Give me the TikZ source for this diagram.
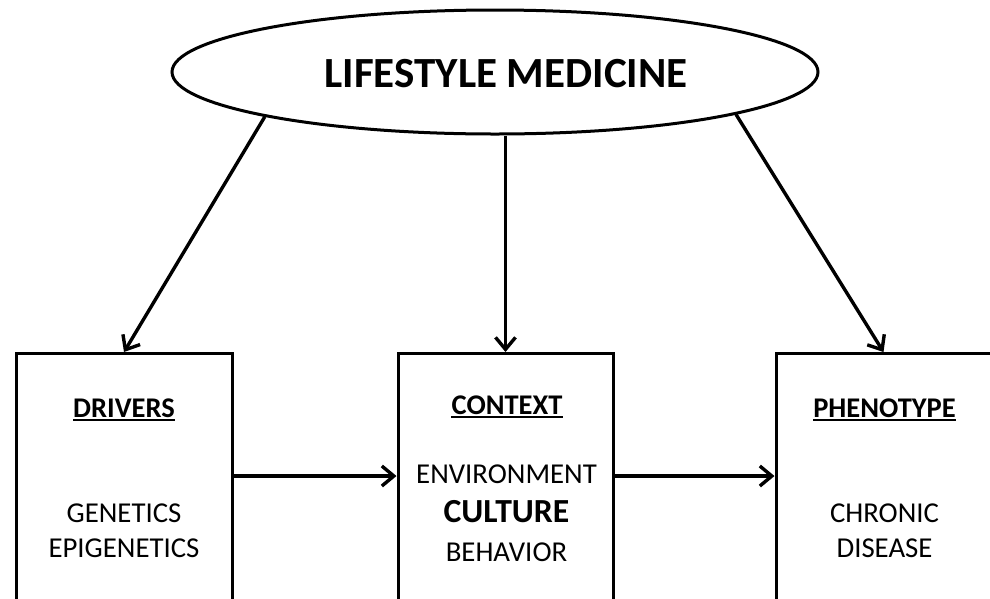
\documentclass[tikz,border=0pt]{standalone}
\usepackage{fontspec}
\setmainfont{Carlito}
\usetikzlibrary{shapes.geometric,arrows.meta}
\begin{document}
\begin{tikzpicture}[x=1pt,y=-1pt,
  stroke/.style={draw=black,line width=3pt},
  arr/.style={line width=3.4pt,-{Straight Barb[length=12pt,width=20pt]}},
  panel/.style={stroke,rectangle,inner sep=0pt,anchor=north,minimum height=280pt},
  txt/.style={inner sep=0pt,anchor=base,font=\fontsize{28.8}{30}\selectfont},
  head/.style={inner sep=0pt,anchor=base,font=\fontsize{28.5}{30}\selectfont\bfseries},
  big/.style={inner sep=0pt,anchor=base,font=\fontsize{33.7}{36}\selectfont\bfseries},
  uline/.style={line width=1.8pt}]
\useasboundingbox (0,0) rectangle (990,598);
\clip (0,0) rectangle (990,598);
\fill[white] (0,0) rectangle (990,598);

% top ellipse and its title
\node[stroke,ellipse,inner sep=0pt,minimum width=646pt,minimum height=124pt] (lm) at (495,72) {};
\node[inner sep=0pt,font=\fontsize{43}{46}\selectfont\bfseries] (title) at (506,74) {LIFESTYLE MEDICINE};

% three panels, running off the lower edge
\node[panel,minimum width=216pt] (drv) at (124,352) {};
\node[panel,minimum width=215pt] (ctx) at (505.5,352) {};
\node[panel,minimum width=215pt] (phe) at (883.5,352) {};

% panel contents
\node[head] (dh) at (124,417) {DRIVERS};
\node[txt] (d1) at (124,522) {GENETICS};
\node[txt] (d2) at (124,557) {EPIGENETICS};

\node[head] (ch) at (507,414) {CONTEXT};
\node[txt] (c1) at (506.5,483) {ENVIRONMENT};
\node[big] (c2) at (506.5,522) {CULTURE};
\node[txt] (c3) at (506.5,561) {BEHAVIOR};

\node[head] (ph) at (884.5,417) {PHENOTYPE};
\node[txt] (p1) at (884.5,522) {CHRONIC};
\node[txt] (p2) at (884.5,557) {DISEASE};

% heading underlines
\foreach \h in {dh,ch,ph}
  \draw[uline] ([yshift=-2.8pt]\h.base west) -- ([yshift=-2.8pt]\h.base east);

% connectors
\coordinate (row) at (0,476);
\draw[arr] (lm.191) -- (drv.north);
\draw[arr] (ctx.north |- lm.south) -- (ctx.north);
\draw[arr] (lm.-10.5) -- (phe.north);
\draw[arr] (drv.east |- row) -- (ctx.west |- row);
\draw[arr] (ctx.east |- row) -- (phe.west |- row);
\end{tikzpicture}
\end{document}
